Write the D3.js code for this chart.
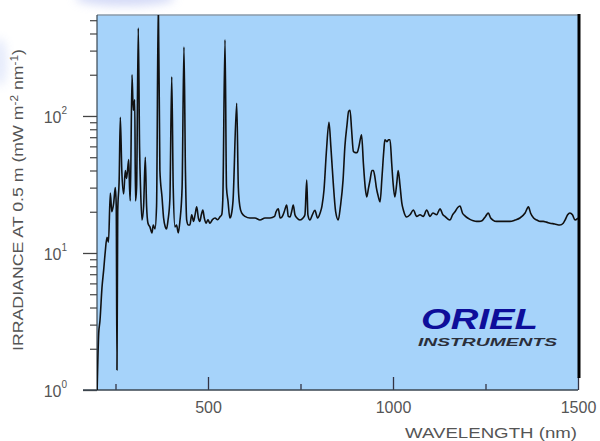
<!DOCTYPE html>
<html>
<head>
<meta charset="utf-8">
<script src="https://cdnjs.cloudflare.com/ajax/libs/d3/7.8.5/d3.min.js"></script>
<style>
  body { margin: 0; background: #fff; }
  svg { display: block; font-family: "Liberation Sans", Arial, sans-serif; }
</style>
</head>
<body>
<svg id="chart" width="600" height="441"></svg>
<script>
// spectrum
var wavelength = [200, 204.6, 208, 213.5, 218, 222, 227, 231, 236, 240, 245, 249.5, 252, 254, 256, 260, 263, 267, 272, 276.5,
  280, 285.7, 288, 290, 294.6, 298, 302, 304, 307, 311.6, 315, 318, 321.6, 326, 330.5, 334, 337.8, 343, 348.6, 352,
  356.8, 361, 365.7, 370, 375.7, 380, 384.6, 388, 392, 397, 402, 406, 410.8, 415, 419.7, 424, 430, 435, 439, 442.4,
  447, 451, 456, 461, 465, 469.5, 474, 478, 482, 486, 490, 494.6, 500, 505, 512, 519, 526, 532, 537, 540,
  546, 550, 554, 559, 563, 567.6, 577.6, 582, 586, 591, 600, 613.5, 627, 640.5, 654, 667.6, 680, 684, 690, 695,
  700, 706, 712.7, 717, 721.6, 726, 730.5, 735, 740.5, 748.6, 756.8, 762, 766.8, 770, 775.7, 782, 789, 796, 803, 808,
  813.5, 820, 827, 832, 838, 845, 852, 858, 865, 870, 875.7, 880, 884, 888, 893, 898, 903, 908, 915, 920,
  925, 929, 934, 938, 943, 947, 951, 955, 960, 965, 970, 975, 978, 984, 988, 992, 996.5, 1000, 1005, 1010,
  1014, 1019, 1024, 1028, 1037, 1046, 1055, 1064, 1073, 1082, 1091, 1100, 1108, 1118, 1127, 1135, 1140.5, 1147, 1154, 1161,
  1167.6, 1175, 1181, 1188, 1195, 1208, 1217, 1226, 1233, 1240.5, 1250, 1257.6, 1264, 1270, 1280, 1289, 1300, 1316, 1330, 1343,
  1357, 1366, 1372, 1380, 1389, 1398, 1406, 1415, 1424, 1437, 1451, 1460, 1465, 1472, 1478, 1485, 1492, 1500];
var irradiance = [0.9, 2.6, 3.2, 5.6, 7.5, 10, 13, 12, 27.4, 20, 23, 30, 22, 1.4, 20, 35, 98, 40, 27, 40,
  35, 48, 30, 24, 200, 110, 131, 24, 30, 439, 60, 28, 17.4, 22, 50, 22, 16.5, 15.5, 14, 16,
  15, 22, 700, 40, 25.6, 18, 15.5, 15, 17.4, 25, 193, 30, 15.5, 16, 14, 17, 30, 318, 40, 17.4,
  16, 16, 19, 17, 19, 21.7, 18, 17, 19, 20.6, 18, 16.5, 17.5, 16.5, 17.5, 18, 17.5, 18.3, 19, 24.5,
  359, 30, 24, 18, 19, 24, 124, 30, 22, 19.6, 18.5, 18, 18, 17.4, 18, 18, 18.5, 20, 21, 18,
  18.3, 20, 22.4, 18.5, 18.3, 20, 22.4, 19, 18, 17.4, 18, 19, 34, 19, 17.4, 19, 20.5, 18, 19.6, 22,
  28.8, 55, 90, 60, 34, 20, 17.4, 22, 34, 60, 86, 108, 110, 80, 55, 54, 54, 60, 73, 45,
  30, 25.6, 30, 34, 40, 40, 36, 30, 26, 23.6, 35, 55, 67, 65, 67, 67, 45, 33, 25.6, 32,
  40, 31, 23, 20.6, 18.3, 19, 20.6, 18.5, 19, 18.5, 20.6, 18.5, 19.6, 19, 21, 19, 18.5, 17.8, 17.4, 19,
  20, 21.5, 22, 19.5, 18.6, 17.6, 17.2, 17, 17, 17.2, 18.5, 19.6, 18, 17.4, 17, 17, 17, 17, 17.4, 18,
  19.6, 21.7, 19.5, 18, 17.4, 17, 17, 16.8, 16.5, 16.3, 16, 16.5, 17.4, 19, 19.6, 19, 17.4, 18];

var xMajor = [500, 1000, 1500];
var xMinor = [250, 750, 1250];
var yMajor = [1, 10, 100];
var yMinor = [2, 3, 4, 5, 6, 7, 8, 9, 20, 30, 40, 50, 60, 70, 80, 90, 200, 300, 400, 500];
var yExp = ["0", "1", "2"];

var svg = d3.select("#chart"),
  margin = { top: 15, right: 22, bottom: 51, left: 97 },
  width = +svg.attr("width") - margin.left - margin.right,
  height = +svg.attr("height") - margin.top - margin.bottom;

var x = d3.scaleLinear().domain([200, 1500]).range([0, width]);
var y = d3.scaleLog().domain([1, Math.pow(10, 2.737)]).range([height, 0]);

// faint scan leftovers at the top and left edge
var defs = svg.append("defs");
defs.append("filter").attr("id", "blur")
  .attr("x", "-50%").attr("y", "-50%").attr("width", "200%").attr("height", "200%")
  .append("feGaussianBlur").attr("stdDeviation", 5);
svg.append("ellipse").attr("cx", 125).attr("cy", -2).attr("rx", 50).attr("ry", 8)
  .attr("fill", "#b9c3f2").attr("opacity", 0.6).attr("filter", "url(#blur)");
svg.append("ellipse").attr("cx", 0).attr("cy", 62).attr("rx", 7).attr("ry", 24)
  .attr("fill", "#c6d2f6").attr("opacity", 0.45).attr("filter", "url(#blur)");

var g = svg.append("g").attr("transform", "translate(" + margin.left + "," + margin.top + ")");

g.append("rect")
  .attr("width", width)
  .attr("height", height)
  .attr("fill", "#a6d3fa");

defs.append("clipPath")
  .attr("id", "clip")
  .append("rect")
  .attr("width", width)
  .attr("height", height);

// ticks
var ax = g.append("g").attr("transform", "translate(0," + height + ")")
  .call(d3.axisBottom(x).tickValues(xMajor).tickSizeInner(-13).tickSizeOuter(0).tickPadding(12)
    .tickFormat(d3.format("d")));
ax.select(".domain").remove();
ax.selectAll("line").attr("stroke", "#334").attr("stroke-width", 1.3);
ax.selectAll("text").attr("font-size", 16).attr("fill", "#555");

var axm = g.append("g").attr("transform", "translate(0," + height + ")")
  .call(d3.axisBottom(x).tickValues(xMinor).tickSizeInner(-6).tickSizeOuter(0).tickFormat(""));
axm.select(".domain").remove();
axm.selectAll("line").attr("stroke", "#334").attr("stroke-width", 1.3);

var ay = g.append("g")
  .call(d3.axisLeft(y).tickValues(yMajor).tickSizeInner(14).tickSizeOuter(0).tickPadding(10).tickFormat(""));
ay.select(".domain").remove();
ay.selectAll("line").attr("stroke", "#444").attr("stroke-width", 1.3);
ay.selectAll(".tick text")
  .attr("font-size", 16).attr("fill", "#555").attr("dy", "0.42em").attr("dx", "-6")
  .text("10")
  .append("tspan")
  .attr("font-size", 10).attr("dy", "-0.95em")
  .text(function (d, i) { return yExp[i]; });

var aym = g.append("g")
  .call(d3.axisLeft(y).tickValues(yMinor).tickSizeInner(7).tickSizeOuter(0).tickFormat(""));
aym.select(".domain").remove();
aym.selectAll("line").attr("stroke", "#444").attr("stroke-width", 1.2);

// frame
g.append("line").attr("x1", 0).attr("x2", width).attr("y1", 0).attr("y2", 0)
  .attr("stroke", "#8a9aa8").attr("stroke-width", 1.5);
g.append("line").attr("x1", 0).attr("x2", 0).attr("y1", 0).attr("y2", height)
  .attr("stroke", "#3a4650").attr("stroke-width", 1.2);
g.append("line").attr("x1", -14).attr("x2", width).attr("y1", height).attr("y2", height)
  .attr("stroke", "#3a4650").attr("stroke-width", 1.3);
g.append("line").attr("x1", width + 1).attr("x2", width + 1).attr("y1", -1).attr("y2", height - 12)
  .attr("stroke", "#000").attr("stroke-width", 3);

// spectrum
var data = wavelength.map(function (w, i) { return [w, irradiance[i]]; });
var line = d3.line()
  .x(function (d) { return x(d[0]); })
  .y(function (d) { return y(d[1]); })
  .curve(d3.curveMonotoneX);

g.append("g")
  .attr("clip-path", "url(#clip)")
  .append("path")
  .datum(data)
  .attr("d", line)
  .attr("fill", "none")
  .attr("stroke", "#111")
  .attr("stroke-width", 1.6)
  .attr("stroke-linejoin", "round");

// logo
var logo = svg.append("g");
logo.append("text")
  .attr("x", 421).attr("y", 329)
  .attr("font-size", 30).attr("font-weight", "bold").attr("font-style", "italic")
  .attr("fill", "#0e0e9a")
  .attr("textLength", 117).attr("lengthAdjust", "spacingAndGlyphs")
  .text("ORIEL");
logo.append("text")
  .attr("x", 418).attr("y", 346)
  .attr("font-size", 11.5).attr("font-weight", "bold").attr("font-style", "italic")
  .attr("fill", "#2b2f3a")
  .attr("textLength", 139).attr("lengthAdjust", "spacingAndGlyphs")
  .text("INSTRUMENTS");

// axis titles
svg.append("text")
  .attr("x", 577).attr("y", 438)
  .attr("text-anchor", "end")
  .attr("font-size", 15).attr("fill", "#555")
  .attr("textLength", 172).attr("lengthAdjust", "spacingAndGlyphs")
  .text("WAVELENGTH (nm)");

svg.append("text")
  .attr("transform", "translate(23,200) rotate(-90)")
  .attr("text-anchor", "middle")
  .attr("font-size", 15).attr("fill", "#555")
  .attr("textLength", 302).attr("lengthAdjust", "spacingAndGlyphs")
  .html("IRRADIANCE AT 0.5 m (mW m<tspan dy='-5' font-size='10'>-2</tspan><tspan dy='5'> nm</tspan><tspan dy='-5' font-size='10'>-1</tspan><tspan dy='5'>)</tspan>");
</script>
</body>
</html>
